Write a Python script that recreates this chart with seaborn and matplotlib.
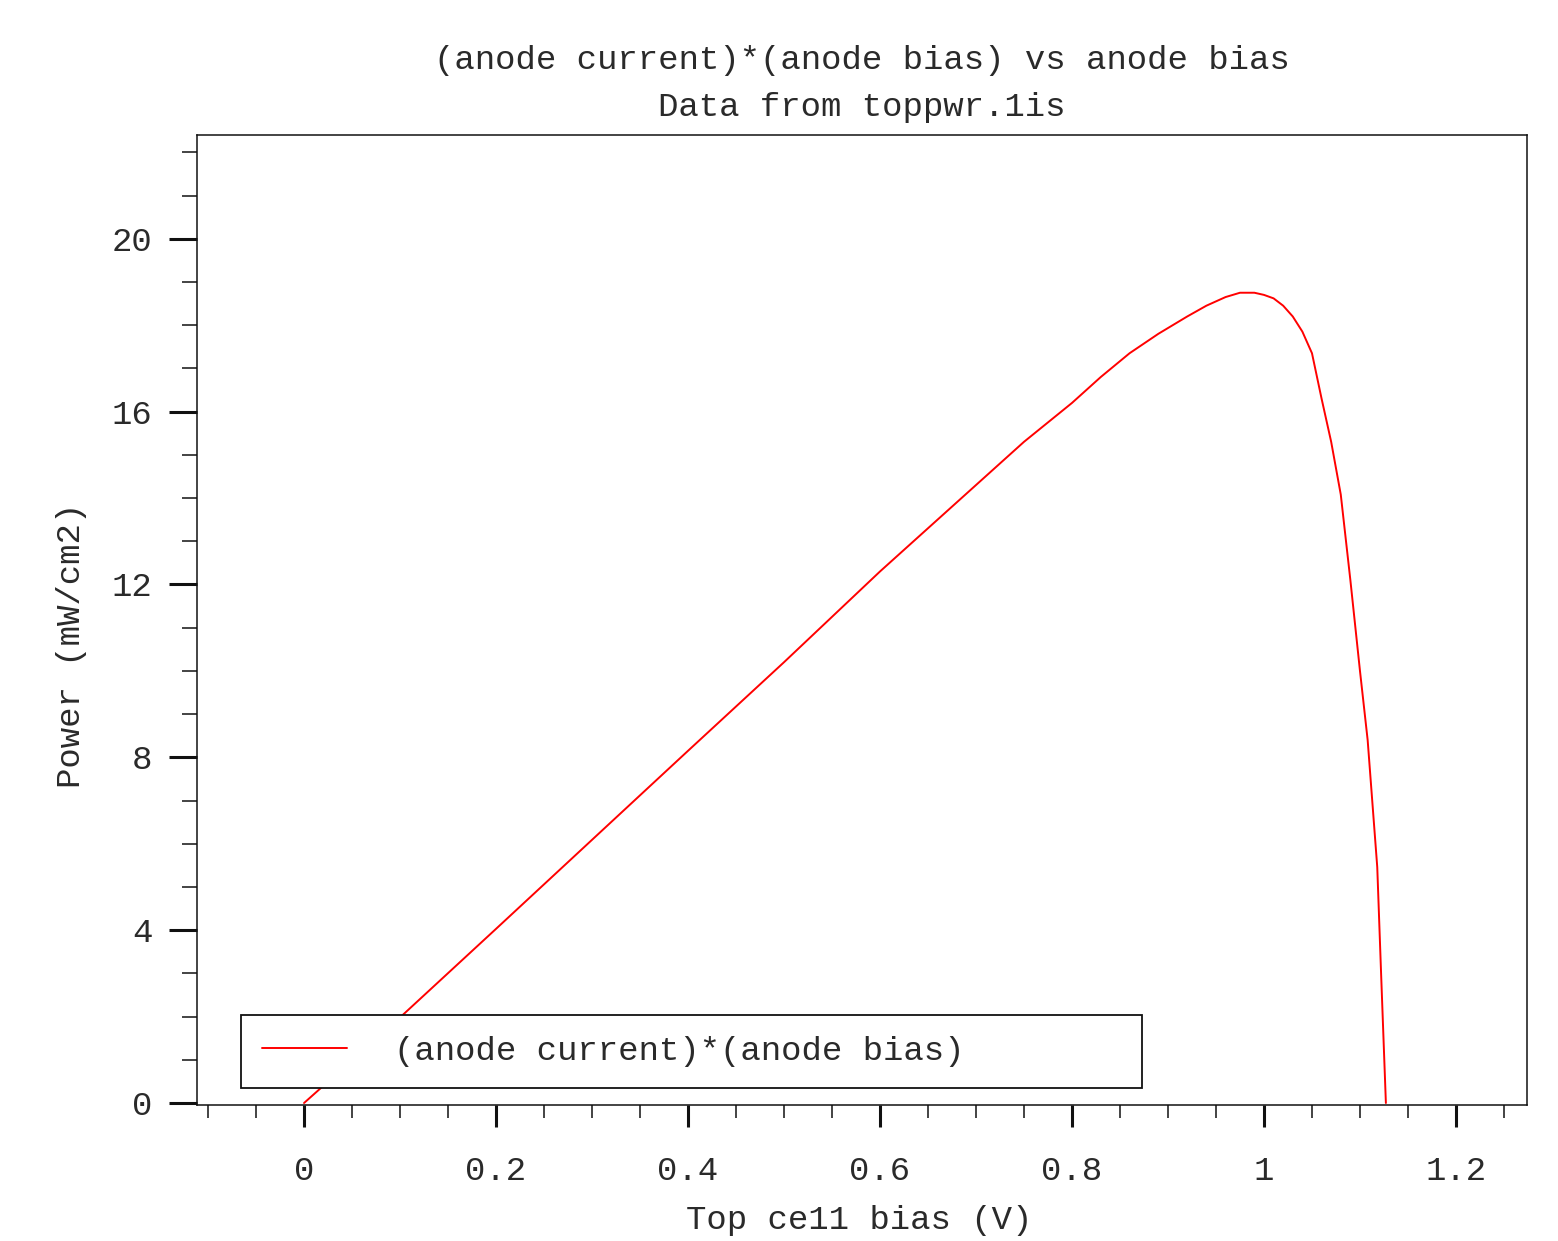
import matplotlib
matplotlib.use("Agg")
import matplotlib.pyplot as plt
from matplotlib.ticker import MultipleLocator, FuncFormatter
import seaborn as sns
import pandas as pd

# ---- data ----
bias = [0, 0.1, 0.2, 0.3, 0.4, 0.5, 0.55, 0.6, 0.65, 0.7, 0.75, 0.8, 0.83,
        0.86, 0.89, 0.92, 0.94, 0.96, 0.975, 0.99, 1.0, 1.01, 1.02, 1.03,
        1.04, 1.05, 1.06, 1.07, 1.08, 1.09, 1.1, 1.108, 1.118, 1.122, 1.127]
power = [0, 1.98, 4.03, 6.09, 8.15, 10.2, 11.25, 12.3, 13.3, 14.3, 15.3, 16.2,
         16.8, 17.35, 17.8, 18.2, 18.45, 18.65, 18.75, 18.75, 18.7, 18.62,
         18.45, 18.2, 17.85, 17.35, 16.3, 15.3, 14.08, 12.1, 10.0, 8.4, 5.46,
         3.0, 0.0]
series_label = "(anode current)*(anode bias)"
title_text = "(anode current)*(anode bias) vs anode bias\nData from toppwr.1is"
xlabel_text = "Top ce11 bias (V)"
ylabel_text = "Power (mW/cm2)"

df = pd.DataFrame({"bias": bias, "power": power})

sns.set_style("ticks")
plt.rcParams['font.family'] = ['Liberation Mono', 'DejaVu Sans Mono']
txt_color = "#2a2a2a"
fs = 24.5

W, H = 1558, 1241
fig = plt.figure(figsize=(W / 100, H / 100), dpi=100)
ax = fig.add_axes([197 / W, (H - 1105) / H, 1330 / W, 970 / H])

sns.lineplot(data=df, x="bias", y="power", color="#ff0000", linewidth=1.4,
             label=series_label, ax=ax, sort=False)

ax.set_xlim(-0.1115, 1.274)
ax.set_ylim(-0.046, 22.4)

ax.xaxis.set_major_locator(MultipleLocator(0.2))
ax.xaxis.set_minor_locator(MultipleLocator(0.05))
ax.yaxis.set_major_locator(MultipleLocator(4))
ax.yaxis.set_minor_locator(MultipleLocator(1))
fmt = FuncFormatter(lambda v, p: "%g" % round(v, 6))
ax.xaxis.set_major_formatter(fmt)
ax.yaxis.set_major_formatter(fmt)

for s in ax.spines.values():
    s.set_visible(True)
    s.set_linewidth(1.1)
    s.set_color("#111111")

ax.tick_params(axis="y", which="major", direction="out", length=20, width=2.2,
               pad=12, labelsize=fs, labelcolor=txt_color, color="#111111")
ax.tick_params(axis="y", which="minor", direction="out", length=11, width=1.1,
               color="#111111")
ax.tick_params(axis="x", which="major", direction="out", length=15.5, width=2.2,
               pad=21, labelsize=fs, labelcolor=txt_color, color="#111111")
ax.tick_params(axis="x", which="minor", direction="out", length=9.5, width=1.1,
               color="#111111")

ax.set_title(title_text, fontsize=fs, color=txt_color, pad=14, linespacing=1.63)
ax.set_xlabel(xlabel_text, fontsize=fs, color=txt_color)
ax.set_ylabel(ylabel_text, fontsize=fs, color=txt_color)
ax.xaxis.set_label_coords(0.498, -0.103)
ax.yaxis.set_label_coords(-0.083, 0.474)

leg = ax.legend(loc="lower left",
                bbox_to_anchor=(44 / 1330, 17 / 970, 901 / 1330, 73 / 970),
                mode="expand", fontsize=fs, frameon=True, fancybox=False,
                shadow=False, framealpha=1, edgecolor="#111111",
                handlelength=2.5, handletextpad=1.4, borderpad=0.61,
                borderaxespad=0)
leg.get_frame().set_linewidth(1.3)
for t in leg.get_texts():
    t.set_color(txt_color)

fig.savefig("out.png", dpi=100, facecolor="white")
